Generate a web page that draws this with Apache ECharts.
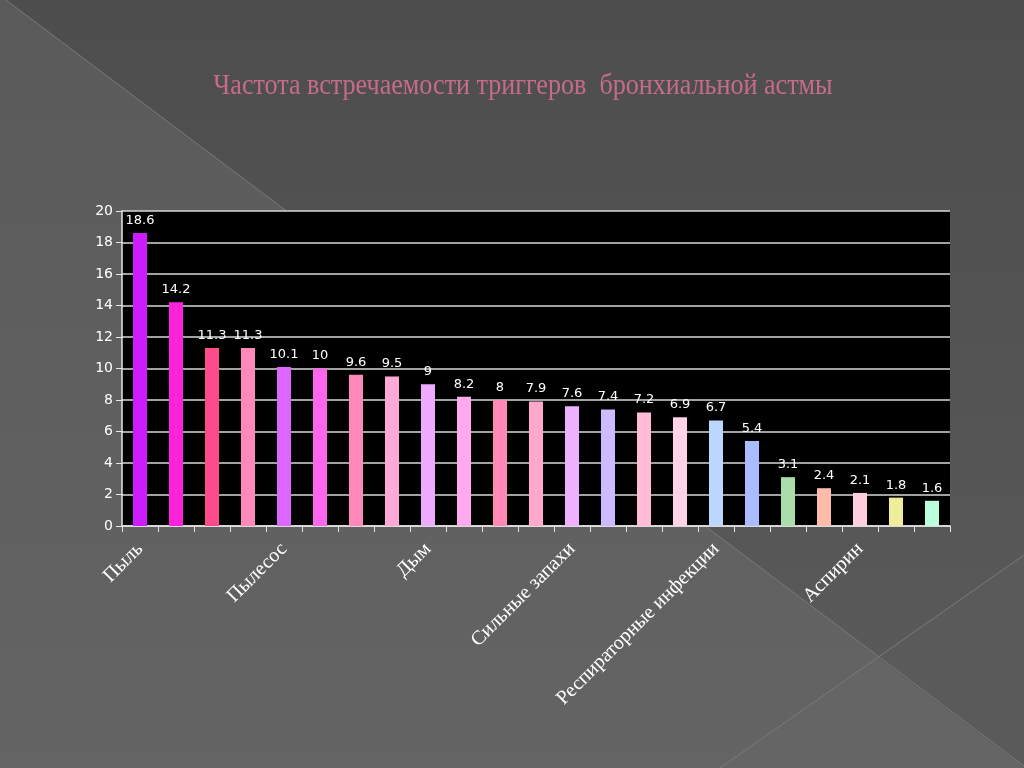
<!DOCTYPE html>
<html>
<head>
<meta charset="utf-8">
<script src="https://cdn.jsdelivr.net/npm/echarts@6/dist/echarts.min.js"></script>
<style>
html,body{margin:0;padding:0;background:#4f4f4f;}
#chart{width:1024px;height:768px;}
</style>
</head>
<body>
<div id="chart"></div>
<script>
// Data
var categories = ["Пыль", "", "", "", "Пылесос", "", "", "", "Дым", "", "", "", "Сильные запахи", "", "", "", "Респираторные инфекции", "", "", "", "Аспирин", "", ""];
var values = [18.6, 14.2, 11.3, 11.3, 10.1, 10, 9.6, 9.5, 9, 8.2, 8, 7.9, 7.6, 7.4, 7.2, 6.9, 6.7, 5.4, 3.1, 2.4, 2.1, 1.8, 1.6];
var barColors = ["#cc1cff", "#ff22dd", "#ff4a8c", "#ff88bb", "#dd66ff", "#ff66ee", "#ff88bb", "#ffaad6", "#eeaaff", "#ffaaee", "#ff88b4", "#ffa8cc", "#eeb0ff", "#ccbbff", "#ffbbd8", "#ffd2e6", "#bbd6ff", "#aabbff", "#aaddaa", "#ffbbaa", "#ffcce0", "#eeee99", "#bbffdd"];
var yTicks = [0, 2, 4, 6, 8, 10, 12, 14, 16, 18, 20];
var titleText = "Частота встречаемости триггеров  бронхиальной астмы";

var chart = echarts.init(document.getElementById('chart'));
var option = {
  backgroundColor: {
    type: 'linear', x: 0, y: 0, x2: 0, y2: 1,
    colorStops: [{offset: 0, color: '#4d4d4d'}, {offset: 1, color: '#5b5b5b'}]
  },
  animation: false,
  graphic: [
    {type: 'polygon', z: -10, silent: true, shape: {points: [[0,0],[6,0],[1024,766],[1024,768],[0,768]]},
      style: {fill: {type: 'linear', x: 0, y: 0, x2: 0, y2: 1, colorStops: [{offset: 0, color: '#5a5a5a'}, {offset: 1, color: '#646464'}]}}},
    {type: 'polygon', z: -9, silent: true, shape: {points: [[877,657],[720,768],[1024,768]]}, style: {fill: '#656565'}},
    {type: 'polygon', z: -9, silent: true, shape: {points: [[877,657],[1024,555],[1024,767]]}, style: {fill: '#5a5a5a'}},
    {type: 'line', z: -8, silent: true, shape: {x1: 6, y1: 0, x2: 1024, y2: 766}, style: {stroke: '#7a7a7a', lineWidth: 1}},
    {type: 'line', z: -8, silent: true, shape: {x1: 1024, y1: 555, x2: 720, y2: 768}, style: {stroke: '#7a7a7a', lineWidth: 1}},
    {type: 'text', x: 523, y: 86, scaleX: 0.87, silent: true,
      style: {x: 0, y: 0, text: titleText, font: '30px "Liberation Serif"', fill: '#c76b8c', align: 'center', verticalAlign: 'middle'}}
  ],
  grid: {left: 122, right: 74, top: 211, bottom: 242, show: true, backgroundColor: '#000', borderWidth: 0},
  xAxis: {
    type: 'category', data: categories,
    axisLine: {lineStyle: {color: '#e6e6e6', width: 1.5}},
    axisTick: {show: true, interval: 0, length: 6, lineStyle: {color: '#e6e6e6'}},
    axisLabel: {interval: 3, rotate: 45, color: '#ffffff', fontFamily: 'Liberation Serif', fontSize: 20, margin: 20}
  },
  yAxis: {
    type: 'value', min: 0, max: 20, interval: 2,
    axisLine: {show: true, lineStyle: {color: '#e6e6e6', width: 1.5}},
    axisTick: {show: true, length: 6, lineStyle: {color: '#e6e6e6'}},
    axisLabel: {color: '#ffffff', fontFamily: 'DejaVu Sans', fontSize: 14, margin: 9,
      formatter: function (v) { return yTicks.indexOf(v) >= 0 ? String(v) : ''; }},
    splitLine: {show: true, lineStyle: {color: '#d9d9d9', width: 1.5}}
  },
  series: [{
    type: 'bar', barWidth: 14,
    data: values.map(function (v, i) { return {value: v, itemStyle: {color: barColors[i]}}; }),
    label: {show: true, position: 'top', distance: 6, color: '#ffffff', fontFamily: 'DejaVu Sans', fontSize: 13}
  }]
};
chart.setOption(option);
</script>
</body>
</html>
